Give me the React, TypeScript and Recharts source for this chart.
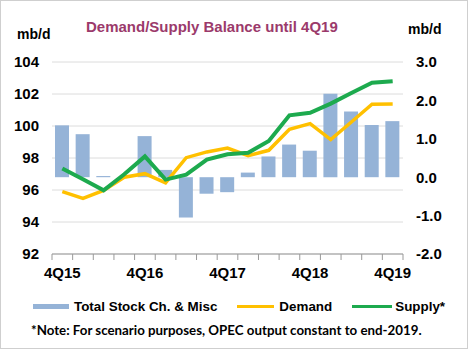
import React from "react";
import {
  ComposedChart,
  Bar,
  Line,
  XAxis,
  YAxis,
  CartesianGrid,
  Legend,
} from "recharts";

const quarters = [
  "4Q15", "1Q16", "2Q16", "3Q16", "4Q16", "1Q17", "2Q17", "3Q17", "4Q17",
  "1Q18", "2Q18", "3Q18", "4Q18", "1Q19", "2Q19", "3Q19", "4Q19",
];
const stockChange = [
  1.35, 1.12, 0.03, 0, 1.07, 0.19, -1.05, -0.43, -0.39,
  0.12, 0.54, 0.85, 0.69, 2.17, 1.71, 1.36, 1.46,
];
const demand = [
  95.9, 95.48, 95.98, 96.8, 97.02, 96.44, 98.02, 98.38, 98.62,
  98.15, 98.48, 99.8, 100.15, 99.15, 100.25, 101.36, 101.38,
];
const supply = [
  97.34, 96.67, 95.98, 96.98, 98.1, 96.65, 96.96, 97.9, 98.23,
  98.33, 99.06, 100.67, 100.83, 101.4, 102.06, 102.7, 102.8,
];
const leftTicks = [92, 94, 96, 98, 100, 102, 104];
const rightTicks = [-2, -1, 0, 1, 2, 3];

const data = quarters.map((q, i) => ({
  q,
  stock: stockChange[i],
  demand: demand[i],
  supply: supply[i],
}));

const BAR = "#95B3D7";
const DEMAND = "#FFC000";
const SUPPLY = "#1DAA4E";
const AXIS = "#999";
const FONT = "'Liberation Sans', Arial, sans-serif";

const tickStyle = { fill: "#000", fontSize: 15, fontWeight: 700, fontFamily: FONT };

// tick marks sit on the category boundaries, labels only every 4th quarter
function QuarterTick(props: any) {
  const { x, y, payload, index } = props;
  const half = payload?.offset ?? 10.3;
  const last = index === quarters.length - 1;
  return (
    <g>
      <line x1={x - half} x2={x - half} y1={y} y2={y + 6} stroke={AXIS} />
      {last && <line x1={x + half} x2={x + half} y1={y} y2={y + 6} stroke={AXIS} />}
      {index % 4 === 0 && (
        <text x={x} y={y + 13} dy="0.71em" textAnchor="middle" {...tickStyle}>
          {payload.value}
        </text>
      )}
    </g>
  );
}

function LegendBox() {
  const item = { display: "flex", alignItems: "center", marginRight: 20 } as const;
  return (
    <div style={{ fontFamily: FONT }}>
      <div style={{ display: "flex", justifyContent: "flex-start", paddingLeft: 32, fontSize: 13.4, fontWeight: 700 }}>
        <div style={item}>
          <span style={{ width: 36, height: 5, background: BAR, marginRight: 5 }} />
          Total Stock Ch. &amp; Misc
        </div>
        <div style={item}>
          <span style={{ width: 37, height: 3, background: DEMAND, marginRight: 5 }} />
          Demand
        </div>
        <div style={item}>
          <span style={{ width: 40, height: 3, background: SUPPLY, marginRight: 3 }} />
          Supply*
        </div>
      </div>
      <div style={{ paddingLeft: 30, marginTop: 8, fontFamily: "Lato, sans-serif", fontSize: 13.3, fontWeight: 700 }}>
        *Note: For scenario purposes, OPEC output constant to end-2019.
      </div>
    </div>
  );
}

export default function App() {
  return (
    <div
      style={{
        position: "absolute",
        left: 0,
        top: 0,
        width: 468,
        height: 349,
        background: "#fff",
        boxSizing: "border-box",
        border: "1px solid #cfcfcf",
        fontFamily: FONT,
      }}
    >
      <div style={{ position: "absolute", left: 0, top: 0, width: 468 }}>
        <ComposedChart
          width={466}
          height={347}
          data={data}
          margin={{ top: 61, right: 0, bottom: 64, left: 0 }}
        >
          <XAxis
            xAxisId="cat"
            dataKey="q"
            interval={0}
            height={30}
            axisLine={{ stroke: AXIS }}
            tickLine={false}
            tickSize={0}
            tickMargin={0}
            tick={<QuarterTick />}
          />
          <YAxis
            yAxisId="left"
            domain={[92, 104]}
            ticks={leftTicks}
            width={51}
            axisLine={false}
            tickLine={false}
            tickSize={0}
            tickMargin={13}
            tick={tickStyle}
          />
          <YAxis
            yAxisId="right"
            orientation="right"
            domain={[-2, 3]}
            ticks={rightTicks}
            tickFormatter={(v: number) => v.toFixed(1)}
            width={64}
            axisLine={false}
            tickLine={false}
            tickSize={0}
            tickMargin={13}
            tick={tickStyle}
          />
          <CartesianGrid
            xAxisId="cat"
            yAxisId="left"
            vertical={false}
            stroke="#dcdcdc"
          />
          <Bar
            xAxisId="cat"
            yAxisId="right"
            dataKey="stock"
            name="Total Stock Ch. & Misc"
            fill={BAR}
            barSize={14}
            isAnimationActive={false}
          />
          <Line
            xAxisId="cat"
            yAxisId="left"
            dataKey="demand"
            name="Demand"
            stroke={DEMAND}
            strokeWidth={3.5}
            dot={false}
            isAnimationActive={false}
          />
          <Line
            xAxisId="cat"
            yAxisId="left"
            dataKey="supply"
            name="Supply*"
            stroke={SUPPLY}
            strokeWidth={4}
            dot={false}
            isAnimationActive={false}
          />
          <Legend
            layout="horizontal"
            verticalAlign="middle"
            align="center"
            wrapperStyle={{ top: 298, left: 0, width: 466 }}
            content={() => <LegendBox />}
          />
        </ComposedChart>
      </div>
      <div
        style={{
          position: "absolute",
          left: 85,
          top: 17,
          fontSize: 15,
          fontWeight: 700,
          color: "#9B3A6B",
        }}
      >
        Demand/Supply Balance until 4Q19
      </div>
      <div style={{ position: "absolute", left: 16, top: 25, fontSize: 14, fontWeight: 700 }}>
        mb/d
      </div>
      <div style={{ position: "absolute", left: 407, top: 20, fontSize: 14, fontWeight: 700 }}>
        mb/d
      </div>
    </div>
  );
}
